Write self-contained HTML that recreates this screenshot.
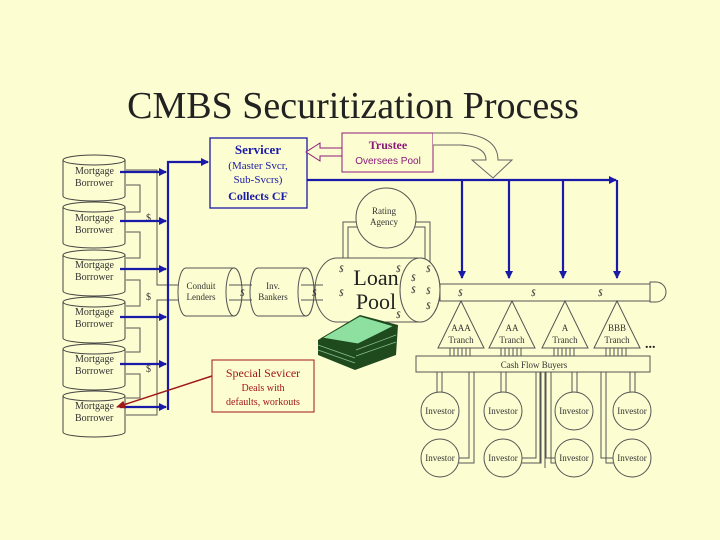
<!DOCTYPE html>
<html><head><meta charset="utf-8"><style>
html,body{margin:0;padding:0;background:#fdfdd2;}
svg{display:block}
text{font-family:"Liberation Serif",serif;}
</style></head><body>
<svg width="720" height="540" viewBox="0 0 720 540" xmlns="http://www.w3.org/2000/svg">
<defs>
<marker id="ab" markerWidth="8" markerHeight="8" refX="7" refY="4" orient="auto" markerUnits="userSpaceOnUse"><path d="M0,0 L8,4 L0,8 z" fill="#1a1aa8"/></marker>
<marker id="ar" markerWidth="9" markerHeight="8" refX="8" refY="4" orient="auto" markerUnits="userSpaceOnUse"><path d="M0,0 L9,4 L0,8 z" fill="#a01818"/></marker>
</defs>
<rect width="720" height="540" fill="#fdfdd2"/>
<text x="353" y="118" font-size="38" text-anchor="middle" fill="#222">CMBS Securitization Process</text>

<g stroke="#555" stroke-width="1" fill="none">
<path d="M126,170 H157 V285 H178"/>
<path d="M126,185 H140 V212 H126"/>
<path d="M126,232 H140 V258 H126"/>
<path d="M126,280 H140 V306 H126"/>
<path d="M126,328 H140 V352 H126"/>
<path d="M126,374 H140 V398 H126"/>
<path d="M178,300 H157 V415 H126"/>
</g>
<g stroke="#444" stroke-width="1" fill="#fdfdd2">
<g id="cyl">
<path d="M63,160 V196 A31,5 0 0 0 125,196 V160"/>
<ellipse cx="94" cy="160" rx="31" ry="5"/>
</g>
<use href="#cyl" y="47"/><use href="#cyl" y="95"/><use href="#cyl" y="142"/><use href="#cyl" y="189"/><use href="#cyl" y="236"/>
</g>
<g font-size="10" fill="#333">
<text x="75" y="174">Mortgage</text><text x="75" y="186">Borrower</text>
<text x="75" y="221">Mortgage</text><text x="75" y="233">Borrower</text>
<text x="75" y="268">Mortgage</text><text x="75" y="280">Borrower</text>
<text x="75" y="315">Mortgage</text><text x="75" y="327">Borrower</text>
<text x="75" y="362">Mortgage</text><text x="75" y="374">Borrower</text>
<text x="75" y="409">Mortgage</text><text x="75" y="421">Borrower</text>
<text x="146" y="221">$</text><text x="146" y="300">$</text><text x="146" y="372">$</text>
</g>

<g stroke="#1a1aa8" stroke-width="2.2" fill="none">
<path d="M168,410 V162 H208" marker-end="url(#ab)"/>
<path d="M120,172 H166" marker-end="url(#ab)"/>
<path d="M120,221 H166" marker-end="url(#ab)"/>
<path d="M120,269 H166" marker-end="url(#ab)"/>
<path d="M120,317 H166" marker-end="url(#ab)"/>
<path d="M120,364 H166" marker-end="url(#ab)"/>
<path d="M120,407 H166" marker-end="url(#ab)"/>
<path d="M307,180 H616" marker-end="url(#ab)"/>
<path d="M462,180 V278" marker-end="url(#ab)"/>
<path d="M509,180 V278" marker-end="url(#ab)"/>
<path d="M563,180 V278" marker-end="url(#ab)"/>
<path d="M617,180 V278" marker-end="url(#ab)"/>
</g>

<rect x="210" y="138" width="97" height="70" fill="#fdfdd2" stroke="#1a1aa8" stroke-width="1.3"/>
<text x="258" y="154" font-size="13" font-weight="bold" fill="#1a1aa8" text-anchor="middle">Servicer</text>
<text x="258" y="169" font-size="11" fill="#1a1aa8" text-anchor="middle">(Master Svcr,</text>
<text x="258" y="183" font-size="11" fill="#1a1aa8" text-anchor="middle">Sub-Svcrs)</text>
<text x="258" y="200" font-size="12" font-weight="bold" fill="#1a1aa8" text-anchor="middle">Collects CF</text>

<rect x="342" y="133" width="91" height="39" fill="#fdfdd2" stroke="#8a1a7a" stroke-width="1"/>
<text x="388" y="149" font-size="12" font-weight="bold" fill="#8a1a7a" text-anchor="middle">Trustee</text>
<text x="388" y="164" font-size="10" fill="#8a1a7a" text-anchor="middle" style="font-family:'Liberation Sans',sans-serif">Oversees Pool</text>
<path d="M342,148 H320 V143 L306,152 L320,161 V156 H342 Z" fill="#fdfdd2" stroke="#8a1a7a" stroke-width="1"/>
<path d="M433,133 H460 Q498,136 498,160 H512 L493,178 L472,160 H486 Q486,146 460,145 H433" fill="#fdfdd2" stroke="#666" stroke-width="1"/>

<g stroke="#555" fill="none">
<path d="M343,268 V222 H357"/><path d="M348,268 V227 H357"/>
<path d="M430,268 V222 H415"/><path d="M425,268 V227 H415"/>
</g>
<circle cx="386" cy="218" r="30" fill="#fdfdd2" stroke="#555"/>
<text x="384" y="214" font-size="9" text-anchor="middle" fill="#333">Rating</text>
<text x="384" y="225" font-size="9" text-anchor="middle" fill="#333">Agency</text>

<g stroke="#555" fill="#fdfdd2">
<path d="M186,268 H234 A8,24 0 0 1 234,316 H186 A8,24 0 0 1 186,268 Z"/>
<ellipse cx="234" cy="292" rx="8" ry="24"/>
<path d="M258,268 H306 A8,24 0 0 1 306,316 H258 A8,24 0 0 1 258,268 Z"/>
<ellipse cx="306" cy="292" rx="8" ry="24"/>
<path d="M337,258 H420 A20,32 0 0 1 420,322 H337 A22,32 0 0 1 337,258 Z"/>
<ellipse cx="420" cy="290" rx="20" ry="32"/>
<rect x="440" y="284" width="210" height="17"/>
<path d="M650,282 H656 A10,10 0 0 1 656,302 H650 Z"/>
</g>
<g stroke="#555"><line x1="229" y1="285" x2="252" y2="285"/><line x1="229" y1="300" x2="252" y2="300"/>
<line x1="301" y1="285" x2="323" y2="285"/><line x1="301" y1="300" x2="323" y2="300"/></g>
<g font-size="9" fill="#333" text-anchor="middle">
<text x="201" y="289">Conduit</text><text x="201" y="300">Lenders</text>
<text x="273" y="289">Inv.</text><text x="273" y="300">Bankers</text>
</g>
<text x="376" y="285" font-size="22" text-anchor="middle" fill="#222">Loan</text>
<text x="376" y="309" font-size="22" text-anchor="middle" fill="#222">Pool</text>
<g font-size="9" fill="#333" font-style="italic">
<text x="240" y="296">$</text><text x="312" y="296">$</text>
<text x="339" y="272">$</text><text x="339" y="296">$</text><text x="396" y="272">$</text><text x="396" y="318">$</text>
<text x="411" y="281">$</text><text x="411" y="293">$</text><text x="426" y="272">$</text><text x="426" y="294">$</text><text x="426" y="309">$</text>
<text x="458" y="296">$</text><text x="531" y="296">$</text><text x="598" y="296">$</text>
<text x="468" y="368">$</text><text x="594" y="368">$</text>
</g>

<g>
<path d="M318,340 L360,315 L398,325 L396,355 L355,370 L318,355 Z" fill="#1e4a1e"/>
<path d="M322,338 L360,316 L394,326 L358,344 Z" fill="#8ee0a0" stroke="#1e4a1e"/>
<g stroke="#8ec08e" stroke-width="0.7"><line x1="318" y1="345" x2="355" y2="358"/><line x1="318" y1="350" x2="355" y2="363"/><line x1="356" y1="350" x2="396" y2="335"/><line x1="356" y1="356" x2="396" y2="342"/></g>
</g>

<g stroke="#555" fill="#fdfdd2">
<path d="M461,301 L438,348 H484 Z"/><path d="M512,301 L489,348 H535 Z"/>
<path d="M565,301 L542,348 H588 Z"/><path d="M617,301 L594,348 H640 Z"/>
</g>
<g stroke="#555">
<path d="M450,348 V356 M454,348 V356 M458,348 V356 M462,348 V356 M466,348 V356 M470,348 V356"/>
<path d="M501,348 V356 M505,348 V356 M509,348 V356 M513,348 V356 M517,348 V356 M521,348 V356"/>
<path d="M554,348 V356 M558,348 V356 M562,348 V356 M566,348 V356 M570,348 V356 M574,348 V356"/>
<path d="M606,348 V356 M610,348 V356 M614,348 V356 M618,348 V356 M622,348 V356 M626,348 V356"/>
</g>
<g font-size="9" fill="#333" text-anchor="middle">
<text x="461" y="331">AAA</text><text x="461" y="343">Tranch</text>
<text x="512" y="331">AA</text><text x="512" y="343">Tranch</text>
<text x="565" y="331">A</text><text x="565" y="343">Tranch</text>
<text x="617" y="331">BBB</text><text x="617" y="343">Tranch</text>
</g>
<text x="645" y="348" font-size="14" font-weight="bold" fill="#222">...</text>
<rect x="416" y="356" width="234" height="16" fill="#fdfdd2" stroke="#555"/>
<text x="534" y="368" font-size="9" text-anchor="middle" fill="#333">Cash Flow Buyers</text>

<g stroke="#555" fill="none">
<path d="M437,372 V392 M442,372 V392 M501,372 V392 M506,372 V392 M572,372 V392 M577,372 V392 M630,372 V392 M635,372 V392"/>
<path d="M469,372 V458 H459 M474,372 V463 H459"/>
<path d="M536,372 V458 H522 M541,372 V463 H522"/>
<path d="M540,372 V463 M545,372 V468"/>
<path d="M546,372 V458 H555 M551,372 V463 H555"/>
<path d="M601,372 V458 H613 M606,372 V463 H613"/>
</g>
<g stroke="#555" fill="#fdfdd2">
<circle cx="440" cy="411" r="19"/><circle cx="503" cy="411" r="19"/><circle cx="574" cy="411" r="19"/><circle cx="632" cy="411" r="19"/>
<circle cx="440" cy="458" r="19"/><circle cx="503" cy="458" r="19"/><circle cx="574" cy="458" r="19"/><circle cx="632" cy="458" r="19"/>
</g>
<g font-size="9" fill="#333" text-anchor="middle">
<text x="440" y="414">Investor</text><text x="503" y="414">Investor</text><text x="574" y="414">Investor</text><text x="632" y="414">Investor</text>
<text x="440" y="461">Investor</text><text x="503" y="461">Investor</text><text x="574" y="461">Investor</text><text x="632" y="461">Investor</text>
</g>

<rect x="212" y="360" width="102" height="52" fill="#fdfdd2" stroke="#a01818" stroke-width="1"/>
<text x="263" y="377" font-size="12" fill="#a01818" text-anchor="middle">Special Sevicer</text>
<text x="263" y="391" font-size="10" fill="#a01818" text-anchor="middle">Deals with</text>
<text x="263" y="405" font-size="10" fill="#a01818" text-anchor="middle">defaults, workouts</text>
<path d="M212,376 L117,407" stroke="#a01818" stroke-width="1.5" marker-end="url(#ar)"/>
</svg>
</body></html>
